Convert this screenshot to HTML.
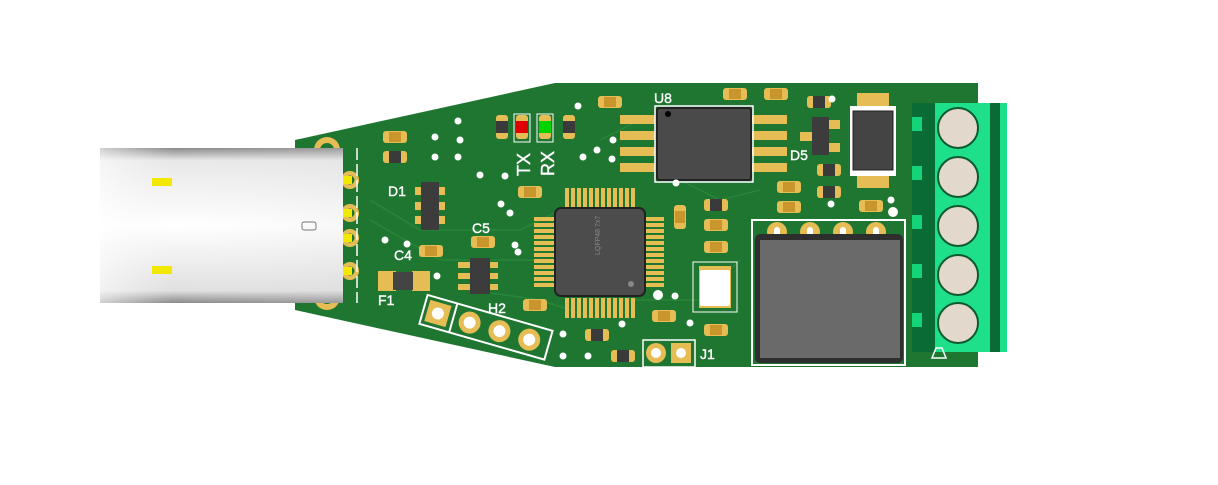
<!DOCTYPE html>
<html><head><style>body{margin:0;background:#fff;width:1218px;height:480px;overflow:hidden}</style></head><body>
<svg width="1218" height="480" viewBox="0 0 1218 480" xmlns="http://www.w3.org/2000/svg" font-family="Liberation Sans, sans-serif">
<defs>
<linearGradient id="usb" x1="0" y1="0" x2="0" y2="1">
<stop offset="0" stop-color="#8a8a8a"/><stop offset="0.08" stop-color="#e8e8e8"/><stop offset="0.5" stop-color="#ffffff"/><stop offset="0.92" stop-color="#e0e0e0"/><stop offset="1" stop-color="#8a8a8a"/></linearGradient>
<linearGradient id="usbh" x1="0" y1="0" x2="1" y2="0">
<stop offset="0" stop-color="#fff" stop-opacity="0.6"/><stop offset="0.3" stop-color="#f5f5f5" stop-opacity="0"/><stop offset="1" stop-color="#ddd" stop-opacity="0.2"/></linearGradient>
<g id="cap"><rect x="-12" y="-6" width="24" height="12" rx="3" fill="#e6bd55"/><rect x="-6" y="-5" width="12" height="10" fill="#c8962c"/></g>
<g id="res"><rect x="-12" y="-6" width="24" height="12" rx="3" fill="#e6bd55"/><rect x="-6" y="-6" width="12" height="12" fill="#3a3a3a"/></g>
</defs>
<polygon points="295,140 555,83 978,83 978,367 555,367 295,310" fill="#1f7631"/>
<g stroke="#2b8a3b" stroke-width="1.5" fill="none" opacity="0.8">
<path d="M370,200 L420,230 L520,230 L560,210"/><path d="M370,220 L440,260 L540,260"/><path d="M600,140 L640,120 L700,120"/><path d="M620,300 L700,300 L740,260"/><path d="M470,290 L540,300 L600,320"/><path d="M680,180 L720,200 L760,190"/>
</g>
<!-- mounting rings -->
<g fill="#e6bd55"><circle cx="327" cy="150" r="13"/><circle cx="327" cy="297" r="13"/>
<circle cx="350" cy="180" r="9"/><circle cx="350" cy="213" r="9"/><circle cx="350" cy="238" r="9"/><circle cx="350" cy="271" r="9"/></g>
<g fill="#1f7631"><circle cx="327" cy="150" r="7"/><circle cx="327" cy="297" r="7"/>
<circle cx="350" cy="180" r="4.5"/><circle cx="350" cy="213" r="4.5"/><circle cx="350" cy="238" r="4.5"/><circle cx="350" cy="271" r="4.5"/></g>
<!-- USB -->
<rect x="100" y="148" width="243" height="155" fill="url(#usb)"/>
<rect x="100" y="148" width="243" height="155" fill="url(#usbh)"/>
<rect x="152" y="178" width="20" height="8" fill="#f3e800"/>
<rect x="152" y="266" width="20" height="8" fill="#f3e800"/>
<rect x="302" y="222" width="14" height="8" rx="2" fill="none" stroke="#777"/>
<line x1="357" y1="148" x2="357" y2="303" stroke="#fff" stroke-width="1.5" stroke-dasharray="12 4"/>
<g fill="#f3e800"><rect x="343" y="176" width="9" height="8"/><rect x="343" y="209" width="9" height="8"/><rect x="343" y="234" width="9" height="8"/><rect x="343" y="267" width="9" height="8"/></g>
<!-- small parts -->
<use href="#cap" x="395" y="137"/><use href="#res" x="395" y="157"/>
<use href="#cap" x="610" y="102"/>
<use href="#cap" x="530" y="192"/><use href="#cap" x="483" y="242"/><use href="#cap" x="431" y="251"/>
<use href="#cap" x="535" y="305"/><use href="#cap" x="789" y="187"/><use href="#cap" x="789" y="207"/>
<use href="#res" x="716" y="205"/>
<use href="#cap" x="716" y="225"/>
<use href="#cap" x="716" y="247"/><use href="#cap" x="716" y="330"/><use href="#cap" x="664" y="316"/>
<use href="#res" x="597" y="335"/><use href="#res" x="623" y="356"/>
<use href="#cap" x="735" y="94"/><use href="#cap" x="776" y="94"/><use href="#res" x="819" y="102"/>
<use href="#res" x="829" y="170"/><use href="#res" x="829" y="192"/><use href="#cap" x="871" y="206"/>
<g transform="translate(680,217) rotate(90)"><use href="#cap"/></g>
<g transform="translate(502,127) rotate(90)"><use href="#res"/></g>
<g transform="translate(569,127) rotate(90)"><use href="#res"/></g>
<g transform="translate(522,127) rotate(90)"><rect x="-12" y="-6" width="24" height="12" rx="3" fill="#e6bd55"/><rect x="-6" y="-6" width="12" height="12" fill="#e00000"/></g>
<g transform="translate(545,127) rotate(90)"><rect x="-12" y="-6" width="24" height="12" rx="3" fill="#e6bd55"/><rect x="-6" y="-6" width="12" height="12" fill="#00d400"/></g>
<rect x="514" y="114" width="16" height="28" fill="none" stroke="#fff" stroke-width="1"/><rect x="537" y="114" width="16" height="28" fill="none" stroke="#fff" stroke-width="1"/>
<!-- F1 -->
<rect x="378" y="271" width="18" height="20" fill="#e6bd55"/><rect x="412" y="271" width="18" height="20" fill="#e6bd55"/><rect x="393" y="272" width="20" height="18" fill="#444"/>
<!-- D1 -->
<g fill="#e6bd55"><rect x="415" y="187" width="30" height="8"/><rect x="415" y="202" width="30" height="8"/><rect x="415" y="216" width="30" height="8"/></g>
<rect x="421" y="182" width="18" height="48" fill="#3c3c3c"/>
<!-- U small -->
<g fill="#e6bd55"><rect x="458" y="262" width="40" height="6"/><rect x="458" y="273" width="40" height="6"/><rect x="458" y="284" width="40" height="6"/></g>
<rect x="470" y="258" width="20" height="36" fill="#3c3c3c"/>
<!-- QFP -->
<g fill="#e6bd55">
<g id="pt"><rect x="565" y="188" width="4" height="20"/><rect x="571" y="188" width="4" height="20"/><rect x="577" y="188" width="4" height="20"/><rect x="583" y="188" width="4" height="20"/><rect x="589" y="188" width="4" height="20"/><rect x="595" y="188" width="4" height="20"/><rect x="601" y="188" width="4" height="20"/><rect x="607" y="188" width="4" height="20"/><rect x="613" y="188" width="4" height="20"/><rect x="619" y="188" width="4" height="20"/><rect x="625" y="188" width="4" height="20"/><rect x="631" y="188" width="4" height="20"/></g>
<use href="#pt" y="110"/>
<g transform="rotate(90 600 252)"><use href="#pt"/><use href="#pt" y="110"/></g>
</g>
<rect x="555" y="208" width="90" height="88" rx="6" fill="#4c4c4c" stroke="#222" stroke-width="2"/>
<circle cx="631" cy="284" r="3" fill="#888"/>
<text x="600" y="255" font-size="7" fill="#888" transform="rotate(-90 600 255)">LQFP48 7x7</text>
<!-- U8 -->
<g fill="#e6bd55"><rect x="620" y="115" width="35" height="9"/><rect x="620" y="131" width="35" height="9"/><rect x="620" y="147" width="35" height="9"/><rect x="620" y="163" width="35" height="9"/>
<rect x="752" y="115" width="35" height="9"/><rect x="752" y="131" width="35" height="9"/><rect x="752" y="147" width="35" height="9"/><rect x="752" y="163" width="35" height="9"/></g>
<rect x="655" y="106" width="98" height="76" fill="none" stroke="#fff" stroke-width="1.5"/>
<rect x="657" y="108" width="94" height="72" rx="2" fill="#4a4a4a" stroke="#222" stroke-width="2"/>
<circle cx="668" cy="114" r="3" fill="#000"/>
<!-- D5 -->
<g fill="#e6bd55"><rect x="818" y="120" width="22" height="9"/><rect x="800" y="132" width="22" height="9"/><rect x="818" y="143" width="22" height="9"/></g>
<rect x="812" y="117" width="17" height="38" fill="#3c3c3c"/>
<!-- diode SMA -->
<rect x="857" y="93" width="32" height="95" fill="#e6bd55"/>
<rect x="850" y="106" width="46" height="70" fill="#fff"/><rect x="853" y="111" width="40" height="59" fill="#444" stroke="#222"/>
<!-- crystal -->
<rect x="693" y="262" width="44" height="50" fill="none" stroke="#fff"/>
<rect x="699" y="266" width="32" height="42" fill="#e6bd55"/><rect x="700" y="270" width="30" height="36" rx="2" fill="#fff"/>
<!-- inductor -->
<rect x="752" y="220" width="153" height="145" fill="none" stroke="#fff" stroke-width="2"/>
<g fill="#e6bd55"><circle cx="777" cy="232" r="10"/><circle cx="810" cy="232" r="10"/><circle cx="843" cy="232" r="10"/><circle cx="876" cy="232" r="10"/></g>
<g fill="#fff"><rect x="774" y="227" width="6" height="10" rx="3"/><rect x="807" y="227" width="6" height="10" rx="3"/><rect x="840" y="227" width="6" height="10" rx="3"/><rect x="873" y="227" width="6" height="10" rx="3"/></g>
<rect x="755" y="234" width="148" height="129" rx="5" fill="#2e2e2e"/>
<rect x="760" y="240" width="140" height="118" fill="#6a6a6a"/>
<!-- H2 -->
<g transform="rotate(16 485 327)">
<rect x="421" y="312" width="130" height="30" fill="none" stroke="#fff" stroke-width="2"/><line x1="452" y1="312" x2="452" y2="342" stroke="#fff" stroke-width="2"/>
<rect x="425" y="316" width="22" height="22" fill="#e6bd55"/>
<circle cx="469" cy="327" r="11" fill="#e6bd55"/><circle cx="500" cy="327" r="11" fill="#e6bd55"/><circle cx="531" cy="327" r="11" fill="#e6bd55"/>
<g fill="#fff"><circle cx="436" cy="327" r="6"/><circle cx="469" cy="327" r="6"/><circle cx="500" cy="327" r="6"/><circle cx="531" cy="327" r="6"/></g></g>
<!-- J1 -->
<rect x="643" y="340" width="52" height="27" fill="none" stroke="#fff" stroke-width="1.5"/>
<circle cx="656" cy="353" r="10" fill="#e6bd55"/><rect x="671" y="343" width="20" height="20" fill="#e6bd55"/>
<circle cx="656" cy="353" r="5" fill="#fff"/><circle cx="681" cy="353" r="5" fill="#fff"/>
<!-- vias -->
<g fill="#fff"><circle cx="435" cy="137" r="3.5"/><circle cx="458" cy="121" r="3.5"/><circle cx="435" cy="157" r="3.5"/><circle cx="458" cy="157" r="3.5"/><circle cx="480" cy="175" r="3.5"/><circle cx="460" cy="140" r="3.5"/><circle cx="385" cy="240" r="3.5"/><circle cx="407" cy="244" r="3.5"/><circle cx="501" cy="204" r="3.5"/><circle cx="437" cy="276" r="3.5"/><circle cx="578" cy="106" r="3.5"/><circle cx="597" cy="150" r="3.5"/><circle cx="583" cy="157" r="3.5"/><circle cx="613" cy="140" r="3.5"/><circle cx="612" cy="159" r="3.5"/><circle cx="676" cy="183" r="3.5"/><circle cx="658" cy="295" r="5"/><circle cx="675" cy="296" r="3.5"/><circle cx="690" cy="323" r="3.5"/><circle cx="563" cy="334" r="3.5"/><circle cx="563" cy="356" r="3.5"/><circle cx="588" cy="356" r="3.5"/><circle cx="622" cy="324" r="3.5"/><circle cx="510" cy="213" r="3.5"/><circle cx="505" cy="176" r="3.5"/><circle cx="518" cy="252" r="3.5"/><circle cx="515" cy="245" r="3.5"/><circle cx="832" cy="99" r="3.5"/><circle cx="831" cy="204" r="3.5"/><circle cx="893" cy="212" r="5"/><circle cx="891" cy="200" r="3.5"/></g>
<!-- labels -->
<g fill="#fff" stroke="#fff" stroke-width="0.4" font-size="14">
<text x="388" y="196">D1</text><text x="394" y="260">C4</text><text x="378" y="305">F1</text><text x="472" y="233">C5</text><text x="488" y="313">H2</text><text x="654" y="103">U8</text><text x="790" y="160">D5</text><text x="700" y="359">J1</text>
<text x="530" y="176" font-size="18" transform="rotate(-90 530 176)">TX</text>
<text x="554" y="176" font-size="18" transform="rotate(-90 554 176)">RX</text></g>
<!-- terminal block -->
<rect x="912" y="103" width="28" height="249" fill="#0a6b35"/>
<g fill="#14d47a"><rect x="912" y="117" width="10" height="14"/><rect x="912" y="166" width="10" height="14"/><rect x="912" y="215" width="10" height="14"/><rect x="912" y="264" width="10" height="14"/><rect x="912" y="313" width="10" height="14"/></g>
<rect x="935" y="103" width="55" height="249" fill="#1fe08a"/>
<rect x="990" y="103" width="10" height="249" fill="#0a6b35"/>
<rect x="1000" y="103" width="7" height="249" fill="#1fe08a"/>
<polygon points="932,358 936,348 942,348 946,358" fill="none" stroke="#fff" stroke-width="1.5"/>
<g fill="#e2d8cc" stroke="#0e5a30" stroke-width="2"><circle cx="958" cy="128" r="20"/><circle cx="958" cy="177" r="20"/><circle cx="958" cy="226" r="20"/><circle cx="958" cy="275" r="20"/><circle cx="958" cy="323" r="20"/></g>
</svg>
</body></html>
